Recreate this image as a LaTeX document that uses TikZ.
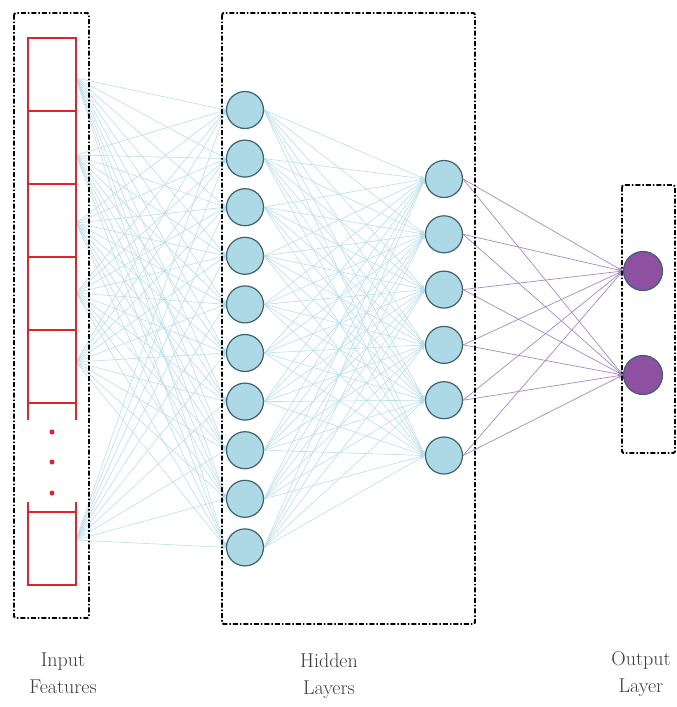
\documentclass[tikz,border=0pt]{standalone}
\usetikzlibrary{arrows.meta,backgrounds}
\definecolor{nodeblue}{RGB}{173,216,230}
\definecolor{nodeedge}{RGB}{62,98,110}
\definecolor{outpurple}{RGB}{142,80,160}
\definecolor{edgeblue}{RGB}{185,222,234}
\definecolor{edgepurple}{RGB}{170,135,195}
\definecolor{featred}{RGB}{225,35,45}
\definecolor{labelgray}{RGB}{60,60,60}
\begin{document}
\begin{tikzpicture}[x=1pt,y=-1pt,
  neuron/.style={circle,draw=nodeedge,line width=1.2pt,fill=nodeblue,minimum size=37pt,inner sep=0pt},
  outneuron/.style={neuron,fill=outpurple,minimum size=39pt},
  groupbox/.style={draw=black,line width=1.8pt,rounded corners=1.5pt,dash pattern=on 5pt off 2pt on 1.5pt off 2pt},
  featline/.style={draw=featred,line width=1.8pt},
  featdot/.style={circle,fill=featred,inner sep=0pt,minimum size=5pt},
  conn/.style={draw=edgeblue,line width=0.6pt,-{Stealth[length=5pt,width=4pt]}},
  outconn/.style={draw=edgepurple,line width=0.7pt,-{Stealth[length=5pt,width=4pt]}},
  lbl/.style={text=labelgray,align=center,font=\fontsize{20}{27.5}\selectfont}]
\useasboundingbox (0,0) rectangle (677,707);

% input feature column
\draw[featline] (28,420) -- (28,38) -- (76,38) -- (76,420);
\foreach \y in {111,184,257,330,403} \draw[featline] (28,\y) -- (76,\y);
\draw[featline] (28,502) -- (28,585) -- (76,585) -- (76,502);
\draw[featline] (28,512) -- (76,512);
\node[featdot] (d1) at (52,432) {};
\node[featdot] (d2) at (52,462) {};
\node[featdot] (d3) at (52,493) {};

% input connection points
\coordinate (in1) at (76,78);
\coordinate (in2) at (76,155);
\coordinate (in3) at (76,223);
\coordinate (in4) at (76,293);
\coordinate (in5) at (76,362);
\coordinate (in6) at (76,540);

% hidden layer 1
\foreach \i in {1,...,10} \node[neuron] (a\i) at (245,{110+(\i-1)*48.6}) {};
% hidden layer 2
\foreach \i in {1,...,6} \node[neuron] (b\i) at (444,{179+(\i-1)*55.3}) {};
% output layer
\node[outneuron] (o1) at (643,271) {};
\node[outneuron] (o2) at (643,375) {};

\begin{scope}[on background layer]
  \foreach \i in {1,...,6} \foreach \j in {1,...,10} \draw[conn] (in\i) -- (a\j.west);
  \foreach \i in {1,...,10} \foreach \j in {1,...,6} \draw[conn] (a\i.east) -- (b\j.west);
  \foreach \i in {1,...,6} \foreach \j in {1,2} \draw[outconn] (b\i.east) -- (o\j.west);
\end{scope}

% group boxes
\draw[groupbox] (14,13) rectangle (89,618);
\draw[groupbox] (222,13) rectangle (475,624);
\draw[groupbox] (622,185) rectangle (675,453);

% labels
\node[lbl] (linput) at (63,673) {Input\\Features};
\node[lbl] (lhidden) at (329,676) {Hidden\\Layers};
\node[lbl] (loutput) at (641,674) {Output\\Layer};
\end{tikzpicture}
\end{document}
